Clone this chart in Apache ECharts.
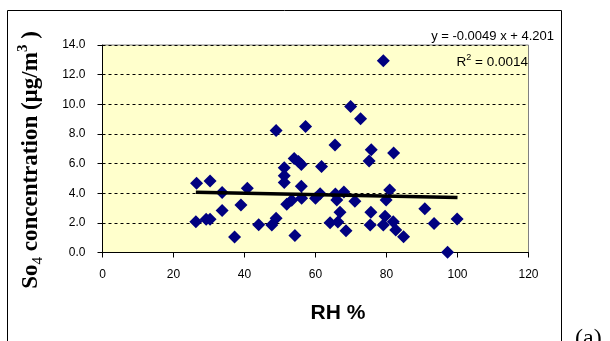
<!DOCTYPE html>
<html>
<head>
<meta charset="utf-8">
<script src="https://cdn.jsdelivr.net/npm/echarts@6/dist/echarts.min.js"></script>
<style>
html,body{margin:0;padding:0;background:#fff;}
#c{width:610px;height:341px;}
</style>
</head>
<body>
<div id="c"></div>
<script>
// RH % values
var rhValues = [26.5,30.3,26.3,29.2,30.3,33.7,33.7,39.0,40.8,37.2,44.0,47.7,48.9,48.9,51.2,51.2,51.2,51.9,53.3,54.0,55.2,56.0,54.2,56.0,56.1,57.2,60.0,61.3,61.7,64.1,65.5,65.6,66.0,66.9,66.3,68.0,68.6,69.9,71.1,72.7,75.1,75.7,75.6,75.4,79.1,80.9,79.9,79.6,79.1,81.9,82.6,84.8,82.0,90.8,93.4,97.2,99.9];
// SO4 concentration values
var so4Values = [4.67,4.83,2.08,2.24,2.24,4.04,2.83,3.21,4.34,1.05,1.88,1.86,2.31,8.23,5.71,5.18,4.72,3.25,3.52,6.35,6.14,5.94,1.15,4.47,3.66,8.50,3.66,3.97,5.80,2.01,7.26,3.95,3.55,2.72,2.06,4.08,1.47,9.85,3.45,9.02,6.17,6.93,2.72,1.86,12.94,4.22,3.55,2.45,1.86,2.08,1.52,1.07,6.72,2.95,1.95,0.02,2.26];
// trendline y = -0.0049 x + 4.201
var trendSlope = -0.0049, trendIntercept = 4.201;
var trendRange = [26.3, 100];
var xTicks = [0,20,40,60,80,100,120];
var yTicks = [0,2,4,6,8,10,12,14];

var scatterData = rhValues.map(function(x,i){return [x, so4Values[i]];});
var trendData = trendRange.map(function(x){return [x, trendSlope*x + trendIntercept];});

var chart = echarts.init(document.getElementById('c'), null, {renderer:'canvas'});
var option = {
  animation:false,
  backgroundColor:'#ffffff',
  grid:{left:102.5, right:81.5, top:45, bottom:88.5, show:true, backgroundColor:'#FFFFCC', borderColor:'#808080', borderWidth:1},
  xAxis:{
    type:'value', min:0, max:120, interval:20,
    axisLine:{onZero:false, lineStyle:{color:'#000', width:1}},
    axisTick:{show:true, length:5, lineStyle:{color:'#000'}},
    axisLabel:{color:'#000', fontFamily:'Liberation Sans, Arial, sans-serif', fontSize:12, margin:16},
    splitLine:{show:false}
  },
  yAxis:{
    type:'value', min:0, max:14, interval:2,
    axisLine:{show:true, onZero:false, lineStyle:{color:'#000', width:1}},
    axisTick:{show:true, length:5, lineStyle:{color:'#000'}},
    axisLabel:{color:'#000', fontFamily:'Liberation Sans, Arial, sans-serif', fontSize:12, margin:17,
      formatter:function(v){return v.toFixed(1);}},
    splitLine:{show:true, lineStyle:{color:'#000', type:[3,3], width:1}}
  },
  series:[
    {type:'scatter', data:scatterData, symbol:'diamond', symbolSize:13,
     itemStyle:{color:'#000080', opacity:1}, z:3},
    {type:'line', data:trendData, symbol:'none', lineStyle:{color:'#000', width:3.5}, z:4}
  ],
  graphic:[
    {type:'rect', shape:{x:7.5, y:10.5, width:554, height:340}, style:{fill:'none', stroke:'#000', lineWidth:1}, z:-1, silent:true},
    {type:'text', x:31, y:160, rotation:Math.PI/2, style:{
      text:'{b|So}{s|4}{b| concentration (µg/m}{p|3}{b| )}',
      align:'center', verticalAlign:'middle',
      rich:{
        b:{fontFamily:'Liberation Serif, Times New Roman, serif', fontWeight:'bold', fontSize:23, fill:'#000', lineHeight:30, verticalAlign:'middle'},
        s:{fontFamily:'Liberation Serif, Times New Roman, serif', fontSize:15, fill:'#000', lineHeight:30, verticalAlign:'bottom', padding:[8,0,0,0]},
        p:{fontFamily:'Liberation Serif, Times New Roman, serif', fontWeight:'bold', fontSize:15, fill:'#000', lineHeight:30, verticalAlign:'top', padding:[0,0,10,0]}
      }}},
    {type:'text', x:338, y:313, style:{text:'RH %', align:'center', verticalAlign:'middle', fontFamily:'Liberation Sans, Arial, sans-serif', fontWeight:'bold', fontSize:21, fill:'#000'}},
    {type:'text', x:554, y:36, style:{text:'y = -0.0049 x + 4.201', align:'right', verticalAlign:'middle', fontFamily:'Liberation Sans, Arial, sans-serif', fontSize:13, fill:'#000'}},
    {type:'text', x:528, y:62, style:{
      text:'{n|R}{p|2}{n| = 0.0014}', align:'right', verticalAlign:'middle',
      rich:{
        n:{fontFamily:'Liberation Sans, Arial, sans-serif', fontSize:13.5, fill:'#000', lineHeight:18, verticalAlign:'middle'},
        p:{fontFamily:'Liberation Sans, Arial, sans-serif', fontSize:9, fill:'#000', lineHeight:18, verticalAlign:'top', padding:[0,0,7,0]}
      }}},
    {type:'text', x:575, y:327, style:{text:'(a)', align:'left', verticalAlign:'top', fontFamily:'Liberation Serif, Times New Roman, serif', fontSize:24, fill:'#000'}}
  ]
};
chart.setOption(option);
</script>
</body>
</html>
